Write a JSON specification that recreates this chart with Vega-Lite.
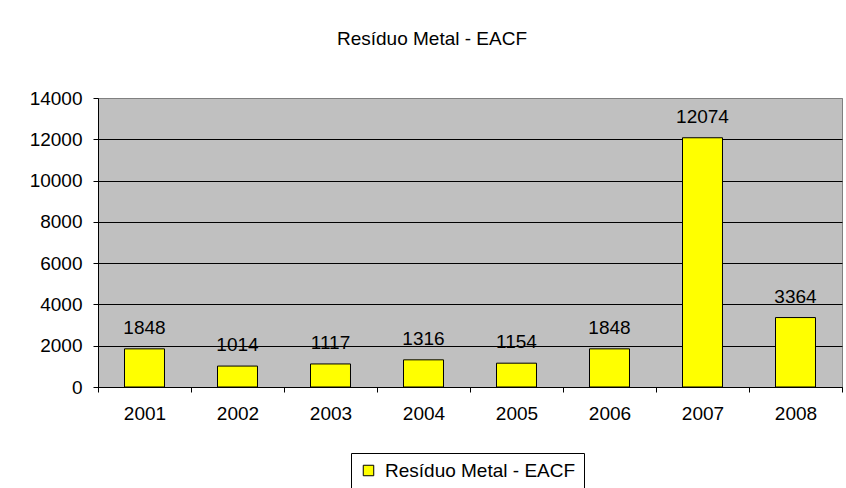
{
  "$schema": "https://vega.github.io/schema/vega-lite/v6.json",
  "autosize": "none",
  "width": 744,
  "height": 289,
  "padding": {"left": 98, "top": 98, "right": 4, "bottom": 101},
  "background": "white",
  "title": {
    "text": "Resíduo Metal - EACF",
    "anchor": "middle",
    "frame": "group",
    "dx": -38,
    "offset": 40,
    "font": "Liberation Sans",
    "fontSize": 19,
    "fontWeight": "normal",
    "color": "black"
  },
  "data": {
    "values": [
      {"ano": "2001", "valor": 1848, "serie": "Resíduo Metal - EACF"},
      {"ano": "2002", "valor": 1014, "serie": "Resíduo Metal - EACF"},
      {"ano": "2003", "valor": 1117, "serie": "Resíduo Metal - EACF"},
      {"ano": "2004", "valor": 1316, "serie": "Resíduo Metal - EACF"},
      {"ano": "2005", "valor": 1154, "serie": "Resíduo Metal - EACF"},
      {"ano": "2006", "valor": 1848, "serie": "Resíduo Metal - EACF"},
      {"ano": "2007", "valor": 12074, "serie": "Resíduo Metal - EACF"},
      {"ano": "2008", "valor": 3364, "serie": "Resíduo Metal - EACF"}
    ]
  },
  "encoding": {
    "x": {
      "field": "ano",
      "type": "ordinal",
      "scale": {"paddingInner": 0, "paddingOuter": 0},
      "axis": {
        "title": null,
        "labelAngle": 0,
        "tickBand": "extent",
        "tickSize": 5,
        "tickColor": "black",
        "domainColor": "black",
        "labelPadding": 12,
        "labelFont": "Liberation Sans",
        "labelFontSize": 19,
        "labelColor": "black",
        "grid": false
      }
    },
    "y": {
      "field": "valor",
      "type": "quantitative",
      "scale": {"domain": [0, 14000], "nice": false},
      "axis": {
        "title": null,
        "values": [0, 2000, 4000, 6000, 8000, 10000, 12000, 14000],
        "format": "d",
        "tickSize": 5,
        "tickColor": "black",
        "domainColor": "black",
        "labelPadding": 11,
        "labelFont": "Liberation Sans",
        "labelFontSize": 19,
        "labelColor": "black",
        "grid": true,
        "gridColor": {"condition": {"test": "datum.value == 14000", "value": "#808080"}, "value": "black"},
        "gridOpacity": 1
      }
    }
  },
  "layer": [
    {
      "mark": {"type": "bar", "width": {"band": 0.43}, "stroke": "black", "strokeWidth": 1},
      "encoding": {
        "color": {
          "field": "serie",
          "type": "nominal",
          "scale": {"range": ["#FFFF00"]},
          "legend": {
            "title": null,
            "orient": "none",
            "legendX": 253,
            "legendY": 355,
            "strokeColor": "black",
            "fillColor": "white",
            "padding": 8,
            "symbolType": "square",
            "symbolSize": 110,
            "symbolStrokeColor": "black",
            "symbolStrokeWidth": 1,
            "symbolOpacity": 1,
            "labelFont": "Liberation Sans",
            "labelFontSize": 19,
            "labelColor": "black",
            "labelOffset": 7,
            "labelLimit": 400
          }
        }
      }
    },
    {
      "mark": {"type": "text", "baseline": "middle", "dy": -21, "font": "Liberation Sans", "fontSize": 19, "color": "black"},
      "encoding": {
        "text": {"field": "valor", "type": "quantitative", "format": "d"}
      }
    }
  ],
  "config": {
    "view": {"fill": "#C0C0C0", "stroke": "#808080", "strokeWidth": 1}
  }
}
